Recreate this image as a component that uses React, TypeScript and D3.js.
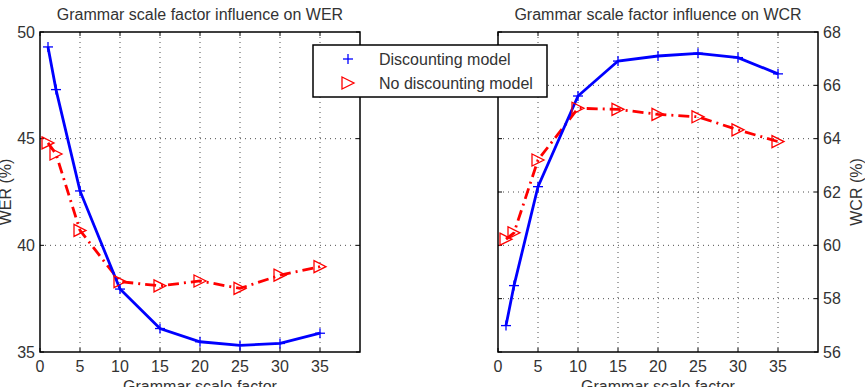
import React from "react";
import * as d3 from "d3";

const xs = [1, 2, 5, 10, 15, 20, 25, 30, 35];
const werDisc = [49.3, 47.3, 42.55, 37.95, 36.1, 35.48, 35.31, 35.4, 35.88];
const werNoDisc = [44.8, 44.28, 40.7, 38.3, 38.1, 38.33, 37.98, 38.6, 39.0];
const wcrDisc = [56.99, 58.49, 62.2, 65.6, 66.91, 67.1, 67.2, 67.04, 66.43];
const wcrNoDisc = [60.23, 60.47, 63.2, 65.14, 65.1, 64.91, 64.82, 64.33, 63.89];
const xTicks = [0, 5, 10, 15, 20, 25, 30, 35];
const werTicks = [35, 40, 45, 50];
const wcrTicks = [56, 58, 60, 62, 64, 66, 68];
const titles = ["Grammar scale factor influence on WER", "Grammar scale factor influence on WCR"];
const xLabel = "Grammar scale factor";
const yLabels = ["WER (%)", "WCR (%)"];
const legendLabels = ["Discounting model", "No discounting model"];

const FONT = "'Liberation Sans', Arial, sans-serif";
const TXT = "#333";
const FS = 16;

type PanelProps = {
  left: number;
  right: number;
  yDomain: [number, number];
  yTicks: number[];
  disc: number[];
  nodisc: number[];
  title: string;
  yLabel: string;
  axisRight: boolean;
};

const TOP = 32;
const BOTTOM = 352;

function Plus({ x, y }: { x: number; y: number }) {
  const s = 5;
  return (
    <g stroke="#0000ff" strokeWidth={1.3}>
      <line x1={x - s} x2={x + s} y1={y} y2={y} />
      <line x1={x} x2={x} y1={y - s} y2={y + s} />
    </g>
  );
}

function Tri({ x, y }: { x: number; y: number }) {
  const s = 6;
  return (
    <path
      d={`M${x - s},${y - s}L${x + s},${y}L${x - s},${y + s}Z`}
      fill="none"
      stroke="#ff0000"
      strokeWidth={1.3}
    />
  );
}

function Panel(p: PanelProps) {
  const x = d3.scaleLinear().domain([0, 40]).range([p.left, p.right]);
  const y = d3.scaleLinear().domain(p.yDomain).range([BOTTOM, TOP]);
  const line = d3
    .line<number>()
    .x((_, i) => x(xs[i]))
    .y((d) => y(d));
  const tl = 4;
  return (
    <g>
      <text
        x={(p.left + p.right) / 2}
        y={19.5}
        textAnchor="middle"
        fontFamily={FONT}
        fontSize={FS}
        fill={TXT}
      >
        {p.title}
      </text>
      {xTicks.slice(1).map((t) => (
        <line
          key={"gx" + t}
          x1={x(t)}
          x2={x(t)}
          y1={TOP}
          y2={BOTTOM}
          stroke="#000"
          strokeWidth={0.7}
          strokeDasharray="1,4"
        />
      ))}
      {p.yTicks.slice(1, -1).map((t) => (
        <line
          key={"gy" + t}
          x1={p.left}
          x2={p.right}
          y1={y(t)}
          y2={y(t)}
          stroke="#000"
          strokeWidth={0.7}
          strokeDasharray="1,4"
        />
      ))}
      {xTicks.map((t) => (
        <g key={"tx" + t}>
          <line x1={x(t)} x2={x(t)} y1={BOTTOM} y2={BOTTOM - tl} stroke="#000" />
          <line x1={x(t)} x2={x(t)} y1={TOP} y2={TOP + tl} stroke="#000" />
          <text
            x={x(t)}
            y={BOTTOM + 20}
            textAnchor="middle"
            fontFamily={FONT}
            fontSize={FS}
            fill={TXT}
          >
            {t}
          </text>
        </g>
      ))}
      {p.yTicks.map((t) => (
        <g key={"ty" + t}>
          <line x1={p.left} x2={p.left + tl} y1={y(t)} y2={y(t)} stroke="#000" />
          <line x1={p.right} x2={p.right - tl} y1={y(t)} y2={y(t)} stroke="#000" />
          <text
            x={p.axisRight ? p.right + 5 : p.left - 5}
            y={y(t) + 5.8}
            textAnchor={p.axisRight ? "start" : "end"}
            fontFamily={FONT}
            fontSize={FS}
            fill={TXT}
          >
            {t}
          </text>
        </g>
      ))}
      <text
        x={(p.left + p.right) / 2}
        y={BOTTOM + 40}
        textAnchor="middle"
        fontFamily={FONT}
        fontSize={FS}
        fill={TXT}
      >
        {xLabel}
      </text>
      <text
        transform={`translate(${p.axisRight ? p.right + 44 : p.left - 29},${(TOP + BOTTOM) / 2}) rotate(-90)`}
        textAnchor="middle"
        fontFamily={FONT}
        fontSize={FS}
        fill={TXT}
      >
        {p.yLabel}
      </text>
      <path d={line(p.nodisc) || ""} fill="none" stroke="#ff0000" strokeWidth={2.8} strokeDasharray="11,5,2,5" />
      <path d={line(p.disc) || ""} fill="none" stroke="#0000ff" strokeWidth={2.8} />
      {p.nodisc.map((v, i) => (
        <Tri key={"r" + i} x={x(xs[i])} y={y(v)} />
      ))}
      {p.disc.map((v, i) => (
        <Plus key={"b" + i} x={x(xs[i])} y={y(v)} />
      ))}
      <rect x={p.left} y={TOP} width={p.right - p.left} height={BOTTOM - TOP} fill="none" stroke="#000" strokeWidth={1.5} />
    </g>
  );
}

export default function App() {
  return (
    <svg width={865} height={387} style={{ position: "absolute", left: 0, top: 0, background: "#fff" }}>
      <rect width={865} height={387} fill="#fff" />
      <Panel
        left={40}
        right={360}
        yDomain={[35, 50]}
        yTicks={werTicks}
        disc={werDisc}
        nodisc={werNoDisc}
        title={titles[0]}
        yLabel={yLabels[0]}
        axisRight={false}
      />
      <Panel
        left={498}
        right={818}
        yDomain={[56, 68]}
        yTicks={wcrTicks}
        disc={wcrDisc}
        nodisc={wcrNoDisc}
        title={titles[1]}
        yLabel={yLabels[1]}
        axisRight={true}
      />
      <g>
        <rect x={313} y={45} width={234} height={52} fill="#fff" stroke="#000" strokeWidth={1.5} />
        <Plus x={348} y={59} />
        <Tri x={348} y={83} />
        <text x={379} y={65} fontFamily={FONT} fontSize={FS} fill={TXT}>
          {legendLabels[0]}
        </text>
        <text x={379} y={88.5} fontFamily={FONT} fontSize={FS} fill={TXT}>
          {legendLabels[1]}
        </text>
      </g>
    </svg>
  );
}
